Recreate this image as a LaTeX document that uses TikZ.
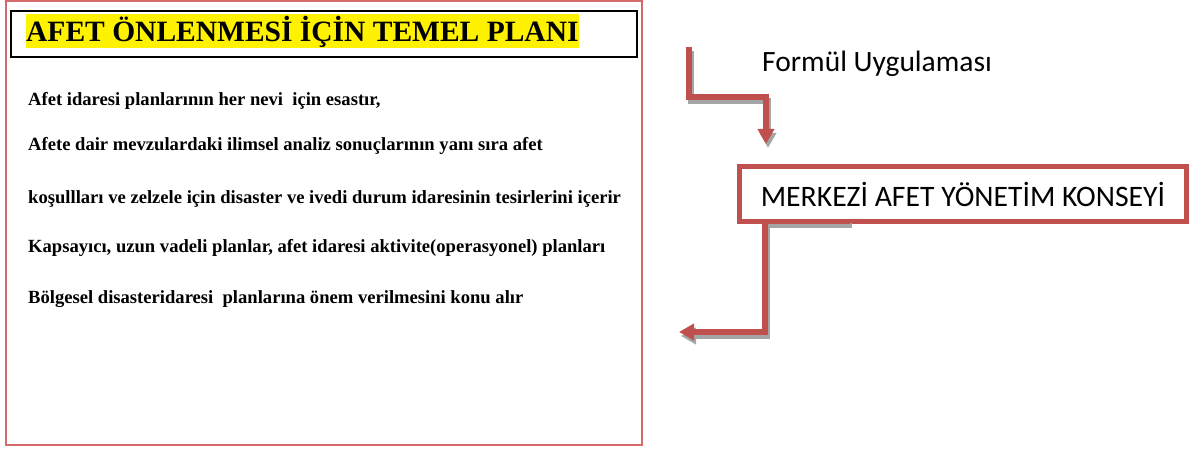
\documentclass[tikz,border=0pt]{standalone}
\usepackage{fontspec}
\setmainfont{Liberation Serif}
\newfontfamily\calibri{Carlito}
\usetikzlibrary{arrows.meta}
\definecolor{accentred}{HTML}{C0504D}
\definecolor{framered}{HTML}{D46A6A}
\definecolor{shadowgray}{HTML}{A5A5A5}

\begin{document}
\begin{tikzpicture}[x=1pt, y=-1pt,
    bodyline/.style={anchor=base west, inner sep=0pt, font=\fontsize{18.6}{20}\selectfont\bfseries},
    bendarrow/.style={line width=5.5pt, accentred, -{Triangle[width=16pt,length=15pt]}},
    bendshadow/.style={bendarrow, shadowgray}]

    % Page size
    \useasboundingbox (0,0) rectangle (1198,449);

    % Left panel: red frame and black title box
    \draw[framered, line width=1.2pt] (6,1) rectangle (642,445);
    \draw[line width=2.5pt] (11,11) rectangle (637,57);

    % Title on a yellow marker
    \node[anchor=base west, fill=yellow, inner sep=0pt, text height=28pt, text depth=6pt,
          font=\fontsize{29.5}{32}\selectfont\bfseries] (title) at (26,42) {AFET ÖNLENMESİ İÇİN TEMEL PLANI};

    % Lines of the plan
    \node[bodyline] (line1) at (28,106) {Afet idaresi planlarının her nevi\ \ için esastır,};
    \node[bodyline] (line2) at (28,151) {Afete dair mevzulardaki ilimsel analiz sonuçlarının yanı sıra afet};
    \node[bodyline] (line3) at (28,203) {koşullları ve zelzele için disaster ve ivedi durum idaresinin tesirlerini içerir};
    \node[bodyline] (line4) at (28,252) {Kapsayıcı, uzun vadeli planlar, afet idaresi aktivite(operasyonel) planları};
    \node[bodyline] (line5) at (28,303) {Bölgesel disasteridaresi\ \ planlarına önem verilmesini konu alır};

    % Right side: formula label and council box
    \node[anchor=base west, inner sep=0pt, font=\calibri\fontsize{29.5}{32}\selectfont] (formul) at (762,72) {Formül Uygulaması};
    \node[draw=accentred, line width=5pt, fill=white, outer sep=0pt, minimum width=447pt, minimum height=55pt,
          font=\calibri\fontsize{29.7}{34}\selectfont] (konsey) at (963,194) {MERKEZİ AFET YÖNETİM KONSEYİ};

    % Bent arrows (free ends)
    \coordinate (fstart) at (689,47);
    \coordinate (fturn) at (766,97);
    \coordinate (kcorner) at (765,332);
    \coordinate (kend) at (679,332);

    % Grey shadows behind the arrows
    \begin{scope}[transform canvas={shift={(2pt,-4pt)}}]
        \draw[bendshadow, shorten >=22.5pt] (fstart) |- (fturn) -- (fturn |- konsey.north);
        \draw[bendshadow] ([xshift=-113pt]konsey.south) -| (kcorner) -- (kend);
    \end{scope}

    \draw[bendarrow, shorten >=22.5pt] (fstart) |- (fturn) -- (fturn |- konsey.north);
    \draw[bendarrow] ([xshift=-113pt]konsey.south) -| (kcorner) -- (kend);

\end{tikzpicture}
\end{document}
